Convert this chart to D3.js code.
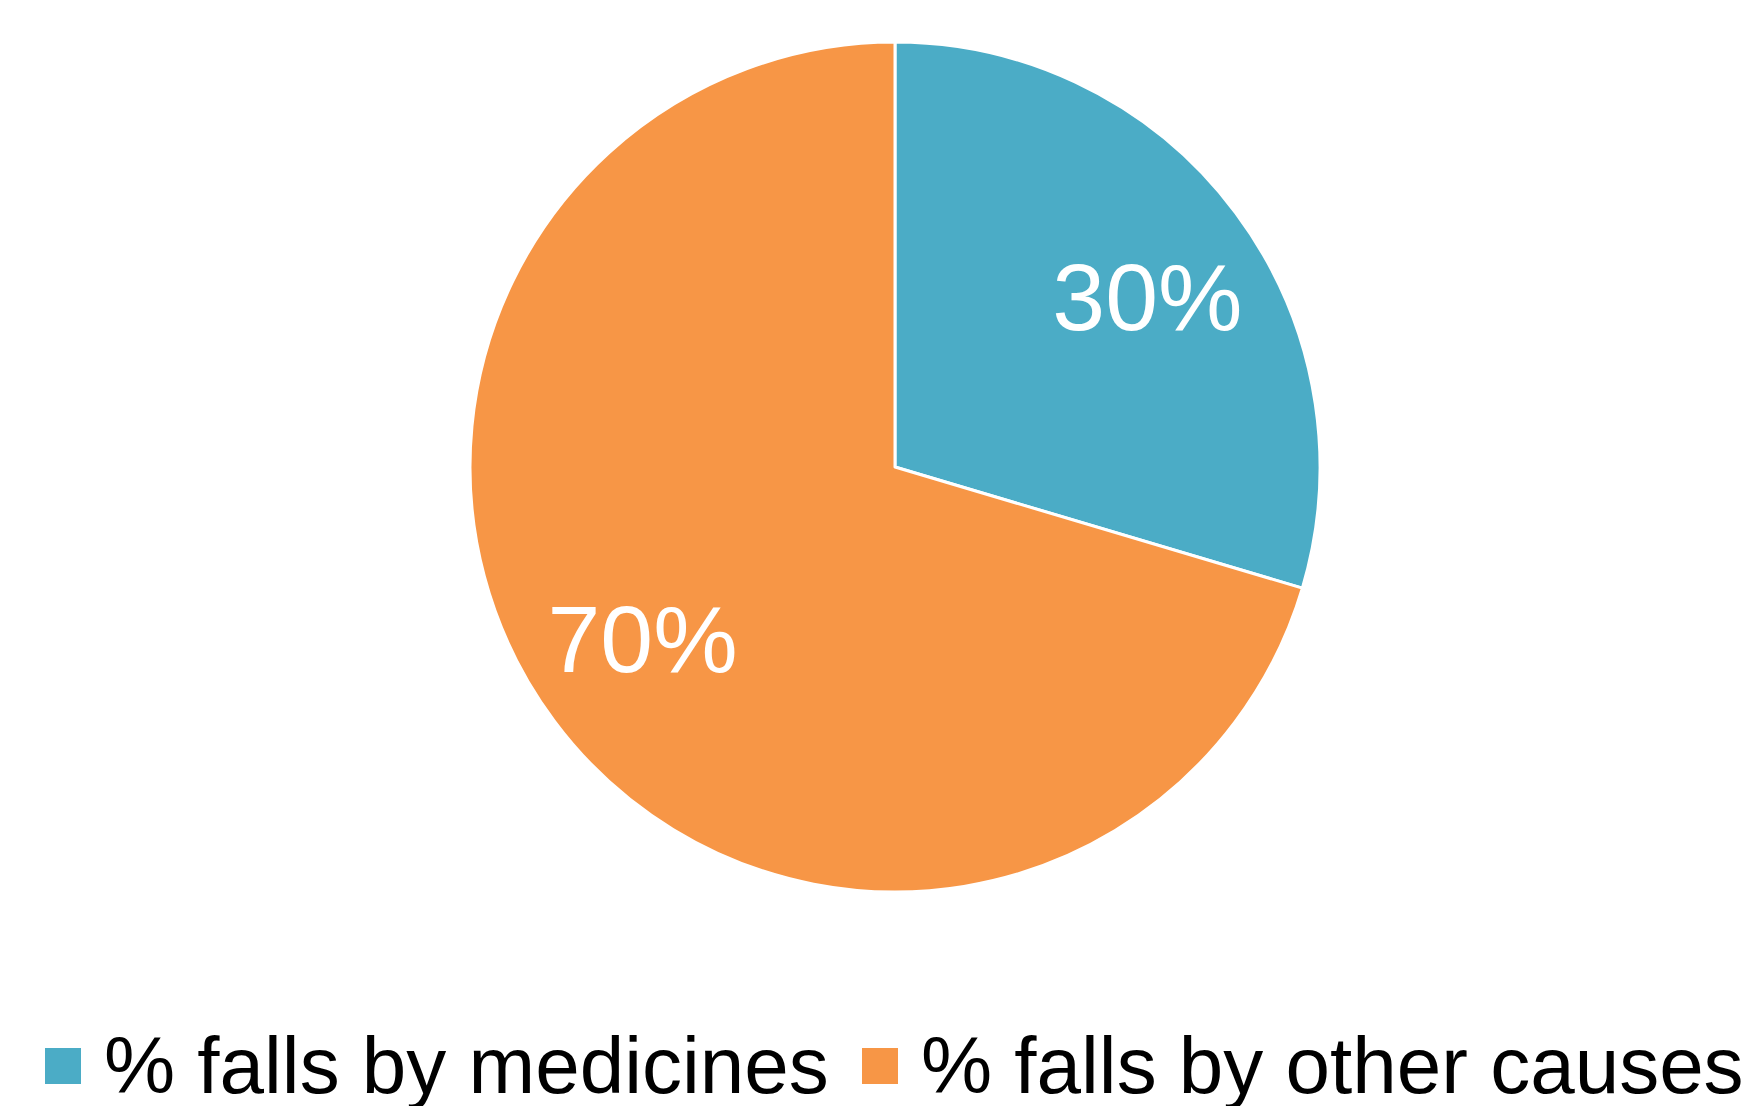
<!DOCTYPE html>
<html>
<head>
<meta charset="utf-8">
<script src="https://cdn.jsdelivr.net/npm/d3@7"></script>
<style>
  html, body { margin: 0; padding: 0; background: #fff; }
  svg { display: block; font-family: "Liberation Sans", Arial, sans-serif; }
</style>
</head>
<body>
<svg id="chart" width="1742" height="1106"></svg>
<script>
// chart data (slice sizes, labels as printed)
const categories = ["% falls by medicines", "% falls by other causes"];
const values = [29.6, 70.4];
const sliceLabels = ["30%", "70%"];
const colors = ["#4BACC6", "#F79646"];

const svg = d3.select("#chart");

const cx = 895, cy = 467, radius = 425;

const pie = d3.pie()
    .sort(null)
    .value(d => d.value);

const arc = d3.arc()
    .outerRadius(radius)
    .innerRadius(0);

//labels sit a bit inside the edge, nudged slightly clockwise like the original
const labelRadius = 305;
const labelShift = 0.045;
function labelPos(d) {
    let a = (d.startAngle + d.endAngle) / 2 + labelShift;
    return [Math.sin(a) * labelRadius, -Math.cos(a) * labelRadius];
}

const data = values.map((v, i) => ({name: categories[i], value: v, label: sliceLabels[i], color: colors[i]}));

const g = svg.append("g").attr("transform", "translate(" + cx + "," + cy + ")");

const slices = g.selectAll(".arc")
    .data(pie(data))
    .enter().append("g")
    .attr("class", "arc");

slices.append("path")
    .attr("d", arc)
    .attr("fill", d => d.data.color)
    .attr("stroke", "#fff")
    .attr("stroke-width", 3)
    .attr("stroke-linejoin", "round");

slices.append("text")
    .attr("transform", d => "translate(" + labelPos(d) + ")")
    .attr("text-anchor", "middle")
    .attr("dy", "0.36em")
    .attr("fill", "#fff")
    .attr("font-size", 95)
    .text(d => d.data.label);

//legend along the bottom
const legend = svg.append("g").attr("transform", "translate(0,1066)");
const legendX = [45, 862];

const items = legend.selectAll(".item")
    .data(data)
    .enter().append("g")
    .attr("class", "item")
    .attr("transform", (d, i) => "translate(" + legendX[i] + ",0)");

items.append("rect")
    .attr("x", 0)
    .attr("y", -18)
    .attr("width", 36)
    .attr("height", 36)
    .attr("fill", d => d.color);

items.append("text")
    .attr("x", 59)
    .attr("y", 27)
    .attr("font-size", 80)
    .attr("fill", "#000")
    .text(d => d.name);
</script>
</body>
</html>
